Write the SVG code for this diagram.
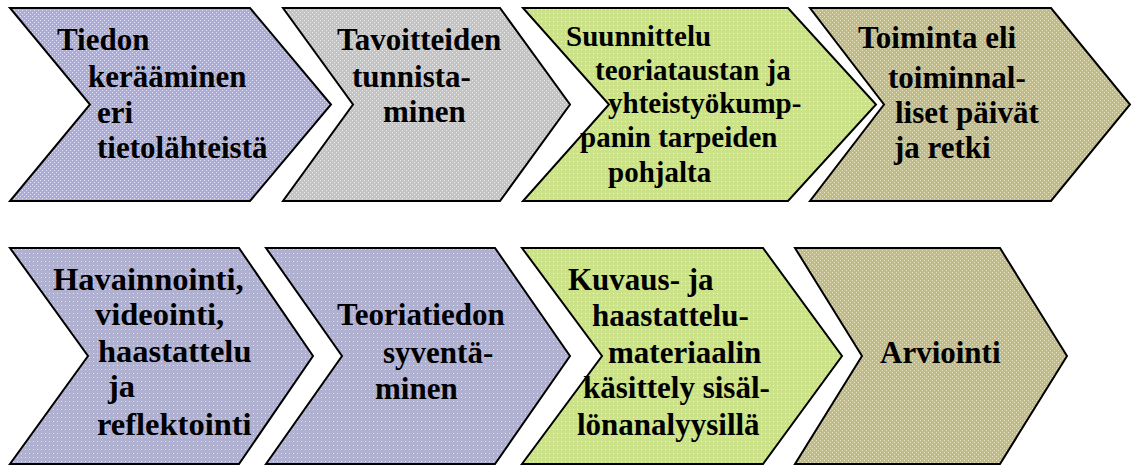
<svg xmlns="http://www.w3.org/2000/svg" width="1136" height="466" viewBox="0 0 1136 466">
  <defs>
    <pattern id="pPurple" width="4" height="4" patternUnits="userSpaceOnUse">
      <rect width="4" height="4" fill="#acacdb"/>
      <rect x="0" y="0" width="1" height="1" fill="#e4e4f6"/>
      <rect x="2" y="2" width="1" height="1" fill="#e4e4f6"/>
    </pattern>
    <pattern id="pLav" width="4" height="4" patternUnits="userSpaceOnUse">
      <rect width="4" height="4" fill="#b0b0d0"/>
      <rect x="1" y="1" width="1" height="1" fill="#e2e2ee"/>
    </pattern>
    <pattern id="pGray" width="4" height="4" patternUnits="userSpaceOnUse">
      <rect width="4" height="4" fill="#c4c4c4"/>
      <rect x="0" y="0" width="1" height="1" fill="#ececec"/>
      <rect x="2" y="2" width="1" height="1" fill="#ececec"/>
    </pattern>
    <pattern id="pGreen" width="4" height="4" patternUnits="userSpaceOnUse">
      <rect width="4" height="4" fill="#cbe288"/>
      <rect x="1" y="1" width="1" height="1" fill="#eef6d6"/>
    </pattern>
    <pattern id="pKhaki" width="4" height="4" patternUnits="userSpaceOnUse">
      <rect width="4" height="4" fill="#c1bc86"/>
      <rect x="0" y="0" width="1" height="1" fill="#e6e3c6"/>
      <rect x="2" y="2" width="1" height="1" fill="#e6e3c6"/>
    </pattern>
  </defs>
  <style>
    .chev { stroke: #000; stroke-width: 2; stroke-linejoin: miter; }
    .t { font-family: "Liberation Serif", "Times New Roman", serif; font-weight: bold; fill: #000; }
    .f31 { font-size: 31px; }
    .f32 { font-size: 32.5px; }
    .f29 { font-size: 29px; }
  </style>
  <rect width="1136" height="466" fill="#fff"/>

  <g id="n1">
    <polygon class="chev" fill="url(#pPurple)" points="10,8 250,8 331,104.5 250,201 10,201 90,104.5"/>
    <text class="t f31"><tspan x="57" y="50">Tiedon</tspan><tspan x="88" y="87">kerääminen</tspan><tspan x="97" y="123">eri</tspan><tspan x="97" y="158">tietolähteistä</tspan></text>
  </g>
  <g id="n2">
    <polygon class="chev" fill="url(#pGray)" points="283,8 500,8 570,104.5 500,201 283,201 353,104.5"/>
    <text class="t f31"><tspan x="337" y="50">Tavoitteiden</tspan><tspan x="352" y="87">tunnista-</tspan><tspan x="383" y="122">minen</tspan></text>
  </g>
  <g id="n3">
    <polygon class="chev" fill="url(#pGreen)" points="523,8 788,8 876,104.5 788,201 523,201 609,104.5"/>
    <text class="t f29"><tspan x="566" y="46">Suunnittelu</tspan><tspan x="595" y="80">teoriataustan ja</tspan><tspan x="608" y="113">yhteistyökump-</tspan><tspan x="580" y="147">panin tarpeiden</tspan><tspan x="608" y="182">pohjalta</tspan></text>
  </g>
  <g id="n4">
    <polygon class="chev" fill="url(#pKhaki)" points="810,8 1051,8 1130,104.5 1051,201 810,201 884,104.5"/>
    <text class="t f31"><tspan x="858" y="48">Toiminta eli</tspan><tspan x="888" y="88">toiminnal-</tspan><tspan x="895" y="123">liset päivät</tspan><tspan x="894" y="158">ja retki</tspan></text>
  </g>

  <g id="n5">
    <polygon class="chev" fill="url(#pLav)" points="10,248 239,248 313,356 239,464 10,464 88,356"/>
    <text class="t f32"><tspan x="53" y="290">Havainnointi,</tspan><tspan x="95" y="325">videointi,</tspan><tspan x="98" y="362">haastattelu</tspan><tspan x="108" y="397">ja</tspan><tspan x="97" y="435">reflektointi</tspan></text>
  </g>
  <g id="n6">
    <polygon class="chev" fill="url(#pLav)" points="266,248 495,248 570,356 495,464 266,464 342,356"/>
    <text class="t f31"><tspan x="337" y="325">Teoriatiedon</tspan><tspan x="383" y="363">syventä-</tspan><tspan x="375" y="399">minen</tspan></text>
  </g>
  <g id="n7">
    <polygon class="chev" fill="url(#pGreen)" points="522,248 763,248 842,356 763,464 522,464 602,356"/>
    <text class="t f31"><tspan x="568" y="290">Kuvaus- ja</tspan><tspan x="592" y="326">haastattelu-</tspan><tspan x="608" y="363">materiaalin</tspan><tspan x="583" y="398">käsittely sisäl-</tspan><tspan x="577" y="435">lönanalyysillä</tspan></text>
  </g>
  <g id="n8">
    <polygon class="chev" fill="url(#pKhaki)" points="795,248 1000,248 1067,356 1000,464 795,464 862,356"/>
    <text class="t f31"><tspan x="880" y="363">Arviointi</tspan></text>
  </g>

  <g id="connectors"></g>
</svg>
